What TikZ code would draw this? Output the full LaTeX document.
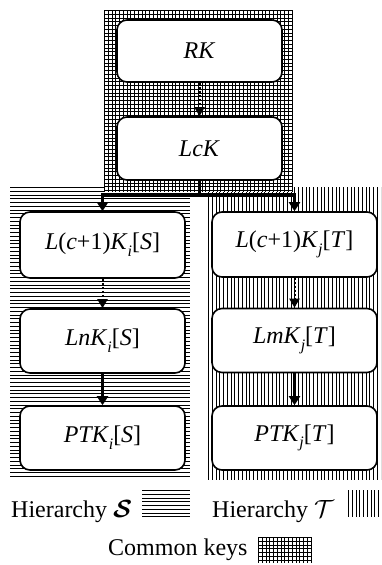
\documentclass[tikz,border=0pt]{standalone}
\usepackage{amsmath}
\usepackage{fontspec}
\setmainfont{Liberation Serif}
\usetikzlibrary{arrows.meta}

% lowered italic index for key names
\newcommand{\idx}[1]{\raisebox{-0.28em}{\fontsize{16}{16}\selectfont\textit{#1}}}

% ruled areas: #1,#2 = top-left corner, #3,#4 = bottom-right corner
\newcommand{\hrules}[4]{%
  \begin{scope}
    \clip (#1,#2) rectangle (#3,#4);
    \fill[white] (#1,#2) rectangle (#3,#4);
    \pgfmathtruncatemacro{\nrow}{(#4-#2)/3.75}
    \foreach \k in {0,...,\nrow}
      \draw[rule] (#1,{#2+0.6+3.75*\k}) -- (#3,{#2+0.6+3.75*\k});
  \end{scope}}
\newcommand{\vrules}[4]{%
  \begin{scope}
    \clip (#1,#2) rectangle (#3,#4);
    \fill[white] (#1,#2) rectangle (#3,#4);
    \pgfmathtruncatemacro{\ncol}{(#3-#1)/3.75}
    \foreach \k in {0,...,\ncol}
      \draw[rule] ({#1+0.6+3.75*\k},#2) -- ({#1+0.6+3.75*\k},#4);
  \end{scope}}
\newcommand{\gridrules}[4]{%
  \begin{scope}
    \clip (#1,#2) rectangle (#3,#4);
    \fill[white] (#1,#2) rectangle (#3,#4);
    \pgfmathtruncatemacro{\nrow}{(#4-#2)/3.75}
    \pgfmathtruncatemacro{\ncol}{(#3-#1)/3.75}
    \foreach \k in {0,...,\nrow}
      \draw[rule] (#1,{#2+0.6+3.75*\k}) -- (#3,{#2+0.6+3.75*\k});
    \foreach \k in {0,...,\ncol}
      \draw[rule] ({#1+0.6+3.75*\k},#2) -- ({#1+0.6+3.75*\k},#4);
  \end{scope}}

\tikzset{
  keybox/.style={draw, line width=1.6pt, rounded corners=10pt, fill=white,
    minimum width=165pt, minimum height=64pt, inner sep=0pt,
    font=\fontsize{24}{28}\selectfont},
  legend/.style={inner sep=0pt, font=\fontsize{24}{28}\selectfont},
  rule/.style={line width=0.9pt},
  dotarrow/.style={line width=2pt, dash pattern=on 2pt off 2pt,
    -{Triangle[length=9pt,width=10pt]}},
  heavy/.style={line width=3.5pt},
  heavyarrow/.style={line width=3.5pt, -{Triangle[length=9pt,width=11pt]}},
}

\begin{document}
\begin{tikzpicture}[x=1pt,y=-1pt]
  \useasboundingbox (0,0) rectangle (381,565);

  % shaded areas: the two hierarchies and the common keys
  \hrules{10}{187}{190}{478}
  \vrules{208}{187}{381}{480}
  \gridrules{104}{10}{293}{192}

  % key boxes
  \node[keybox, minimum height=62pt] (rk)  at (199.5,51)  {\textit{RK}};
  \node[keybox, minimum height=63pt] (lck) at (199.5,148.5) {\textit{LcK}};

  \node[keybox, minimum height=66pt] (s1) at (102.5,245) {\textit{L}(\textit{c}+1)\textit{K}\idx{i}[\textit{S}]};
  \node[keybox] (s2) at (102.5,341) {\textit{LnK}\idx{i}[\textit{S}]};
  \node[keybox] (s3) at (102.5,438) {\textit{PTK}\idx{i}[\textit{S}]};

  \node[keybox, minimum height=65pt] (t1) at (294.5,244.5) {\textit{L}(\textit{c}+1)\textit{K}\idx{j}[\textit{T}]};
  \node[keybox] (t2) at (294.5,340.5) {\textit{LmK}\idx{j}[\textit{T}]};
  \node[keybox] (t3) at (294.5,438) {\textit{PTK}\idx{j}[\textit{T}]};

  % derivation arrows
  \draw[dotarrow] (rk) -- (lck);
  \coordinate (fork) at (199.5,195);
  \draw[heavy] (lck.south) -- (fork);
  \draw[heavyarrow] (fork) -| (s1.north);
  \draw[heavyarrow] (fork) -| (t1.north);
  \draw[dotarrow] (s1) -- (s2);
  \draw[dotarrow] (t1) -- (t2);
  \draw[heavyarrow] (s2) -- (s3);
  \draw[heavyarrow] (t2) -- (t3);

  % legend
  \node[legend, anchor=base west] (lgs) at (11,517) {Hierarchy $\boldsymbol{\mathcal{S}}$};
  \hrules{142}{490}{190}{517}
  \node[legend, anchor=base west] (lgt) at (212,517) {Hierarchy $\mathcal{T}$};
  \vrules{348}{490}{381}{517}
  \node[legend, anchor=base west] (lgc) at (108,555) {Common keys};
  \gridrules{258}{537}{312}{563}
\end{tikzpicture}
\end{document}
